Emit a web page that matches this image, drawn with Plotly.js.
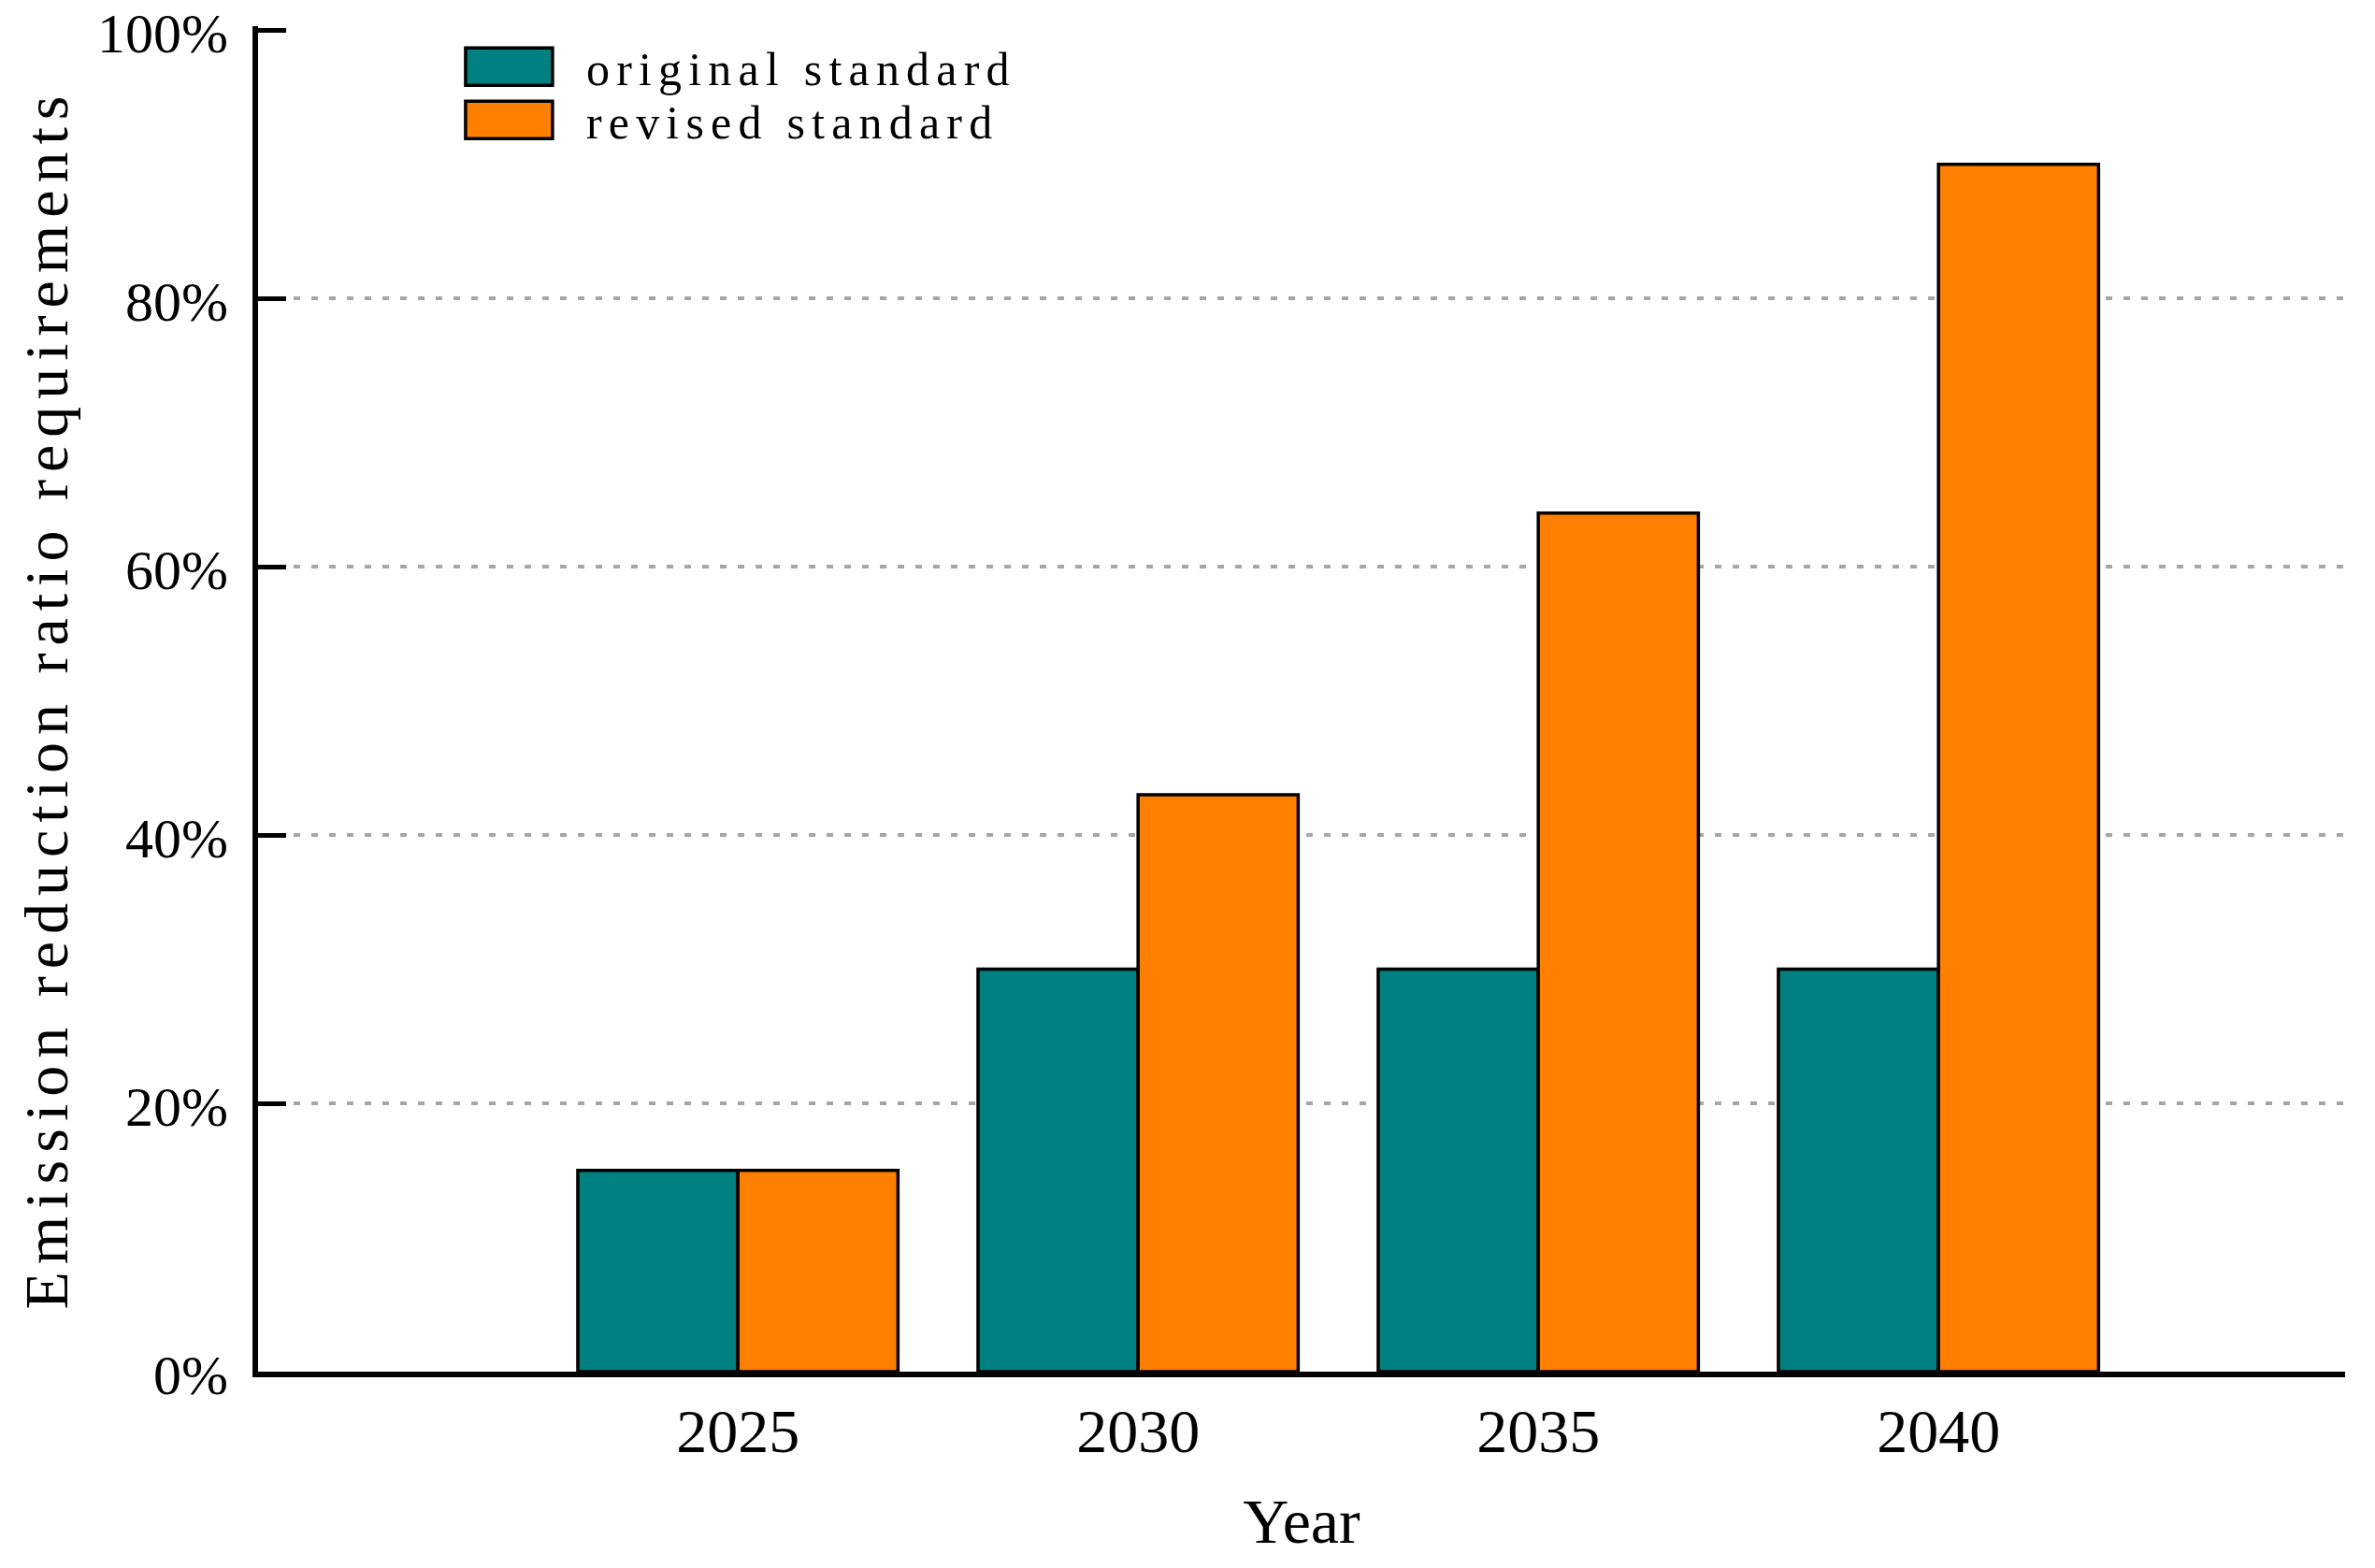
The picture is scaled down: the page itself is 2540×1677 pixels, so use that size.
<!DOCTYPE html>
<html><head><meta charset="utf-8">
<script src="https://cdn.plot.ly/plotly-3.0.1.min.js"></script>
<style>
html,body{margin:0;padding:0;background:#fff;}
#chart{width:2540px;height:1677px;}
.ytitle{letter-spacing:8px;}
.legendtext{letter-spacing:7.2px;}
</style></head><body><div id="chart"></div>
<script>
const years = ['2025', '2030', '2035', '2040'];
const originalStandard = [15, 30, 30, 30];
const revisedStandard = [15, 43, 64, 90];
const seriesNames = ['original standard', 'revised standard'];
const seriesColors = ['#008080', '#FF8000'];
const yTickVals = [0, 20, 40, 60, 80, 100];
const yTickText = ['0%', '20%', '40%', '60%', '80%', '100%'];
const gridVals = [20, 40, 60, 80];

const FONT = 'Liberation Serif, Times New Roman, serif';
const Y_RANGE = [0, 100.3];

const traces = [originalStandard, revisedStandard].map((vals, i) => ({
  type: 'bar',
  x: years,
  y: vals,
  name: seriesNames[i],
  marker: {color: seriesColors[i], line: {color: '#000', width: 3.5}},
  hoverinfo: 'x+y+name'
}));
// empty helper trace so the grid-only overlay axis gets drawn
traces.push({type: 'scatter', x: [], y: [], yaxis: 'y2', showlegend: false, hoverinfo: 'skip'});

const layout = {
  width: 2540, height: 1677,
  margin: {l: 276, r: 32, t: 28, b: 210, pad: 0},
  paper_bgcolor: '#fff', plot_bgcolor: '#fff',
  barmode: 'group', bargap: 0.2, bargroupgap: 0,
  showlegend: true,
  legend: {
    x: 0.0833, y: 0.997, xanchor: 'left', yanchor: 'top',
    bgcolor: 'rgba(0,0,0,0)', borderwidth: 0,
    font: {family: FONT, size: 50, color: '#000'},
    itemwidth: 155, tracegroupgap: 0
  },
  xaxis: {
    type: 'category',
    range: [-1.199, 4.016],
    showline: true, linecolor: '#000', linewidth: 6,
    ticks: '', showgrid: false, zeroline: false,
    tickfont: {family: FONT, size: 66, color: '#000'},
    ticklabelstandoff: 1,
    title: {text: 'Year', font: {family: FONT, size: 68, color: '#000'}, standoff: 38}
  },
  yaxis: {
    range: Y_RANGE,
    tickvals: yTickVals, ticktext: yTickText,
    showline: true, linecolor: '#000', linewidth: 6,
    ticks: 'inside', ticklen: 30, tickwidth: 5, tickcolor: '#000',
    showgrid: false, zeroline: false,
    tickfont: {family: FONT, size: 60, color: '#000'},
    ticklabelstandoff: 14, ticklabelshift: 3, ticklabeloverflow: 'allow',
    title: {text: 'Emission reduction ratio requirements', font: {family: FONT, size: 66, color: '#000'}, standoff: 28}
  },
  yaxis2: {
    overlaying: 'y', side: 'left', range: Y_RANGE,
    tickvals: gridVals, showticklabels: false, ticks: '',
    showline: false, zeroline: false,
    showgrid: true, gridcolor: '#a6a6a6', gridwidth: 3.5, griddash: '7px,12px'
  }
};

Plotly.newPlot('chart', traces, layout, {displayModeBar: false}).then(() => {
  document.querySelectorAll('#chart .legend .legendpoints path').forEach(p => {
    p.setAttribute('d', 'M46.5,20H-46.5V-20H46.5Z');
    p.style.strokeWidth = '3.5px';
    p.style.stroke = '#000';
  });
  const items = document.querySelectorAll('#chart .legend .traces');
  if (items.length === 2) {
    const m = /translate\(\s*([-\d.]+)[ ,]+([-\d.]+)\s*\)/.exec(items[0].getAttribute('transform') || '');
    if (m) {
      const x0 = parseFloat(m[1]), y0 = parseFloat(m[2]);
      items[1].setAttribute('transform', 'translate(' + x0 + ',' + (y0 + 57) + ')');
    }
  }
  const yt = document.querySelector('#chart .ytitle');
  if (yt) {
    yt.setAttribute('transform', 'translate(13,0) ' + (yt.getAttribute('transform') || ''));
  }
});
</script></body></html>
